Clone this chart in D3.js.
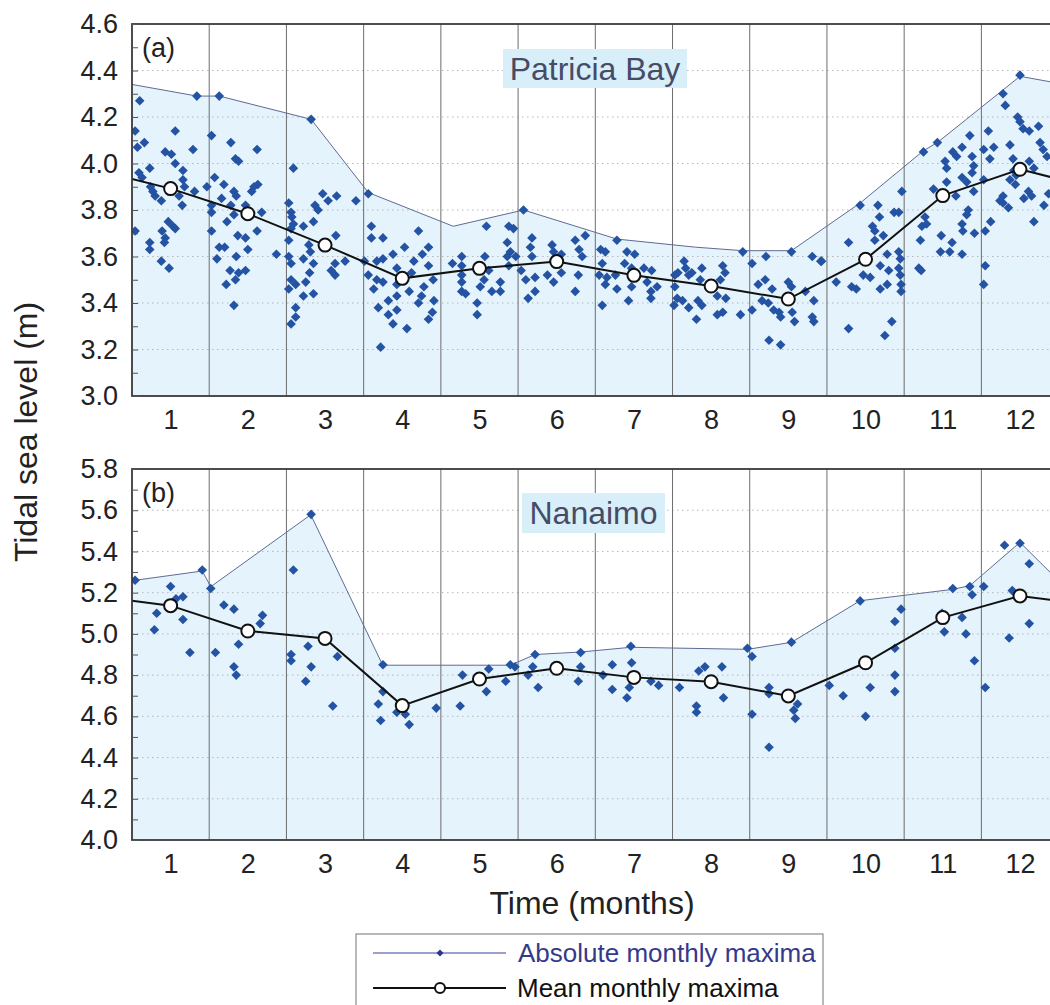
<!DOCTYPE html>
<html lang="en">
<head>
<meta charset="UTF-8">
<title>Tidal sea level</title>
<script src="https://cdnjs.cloudflare.com/ajax/libs/d3/7.8.5/d3.min.js"></script>
<style>
  body { margin: 0; background: #fff; }
  svg { display: block; font-family: "Liberation Sans", Arial, sans-serif; }
</style>
</head>
<body>
<svg id="chart" width="1050" height="1005"></svg>
<script>
// ---- data ----
const months = [1, 2, 3, 4, 5, 6, 7, 8, 9, 10, 11, 12];

// (a) Patricia Bay
const patriciaMean = [3.892, 3.784, 3.649, 3.506, 3.549, 3.578, 3.519, 3.473, 3.417, 3.588, 3.862, 3.975];
const patriciaMeanEdge = 3.933;  // value where the mean line meets the panel edges
const patriciaEnvelope = [[0.5,4.34],[1.34,4.29],[1.63,4.29],[2.82,4.19],[3.56,3.875],[4.66,3.73],[5.57,3.80],
  [6.78,3.675],[7.8,3.64],[8.41,3.625],[9.04,3.625],[9.93,3.83],[10.75,4.055],[10.93,4.09],[12.0,4.375],[12.5,4.345]];
const patriciaPoints = [
  // Jan
  [0.60,4.27],[1.34,4.29],[0.54,4.14],[1.06,4.14],[0.57,4.07],[0.66,4.09],[1.29,4.06],[0.93,4.05],[1.01,4.04],[1.06,4.00],
  [0.73,3.98],[0.59,3.96],[0.63,3.94],[1.16,3.97],[1.16,3.93],[1.18,3.90],[1.31,3.88],[0.74,3.90],[0.77,3.88],[0.80,3.86],
  [0.88,3.84],[1.11,3.86],[1.15,3.82],[0.97,3.75],[1.03,3.73],[1.06,3.72],[0.89,3.71],[0.54,3.71],[0.93,3.68],[0.92,3.66],
  [0.73,3.66],[0.73,3.63],[0.88,3.58],[0.98,3.55],[1.47,3.90],
  // Feb
  [1.63,4.29],[1.53,4.12],[1.78,4.09],[2.12,4.06],[1.84,4.02],[1.88,4.01],[1.57,3.94],[1.69,3.91],[2.08,3.90],[2.13,3.91],
  [2.05,3.88],[1.82,3.88],[1.85,3.86],[1.66,3.85],[1.78,3.82],[1.97,3.82],[1.53,3.82],[1.53,3.79],[2.18,3.79],[1.82,3.78],
  [1.73,3.75],[2.12,3.71],[1.53,3.71],[1.87,3.69],[1.97,3.68],[2.00,3.63],[1.63,3.64],[1.70,3.64],[1.85,3.60],[1.60,3.59],
  [1.97,3.54],[1.77,3.54],[1.88,3.53],[1.84,3.50],[1.72,3.48],[1.82,3.39],[2.37,3.61],
  // Mar
  [2.82,4.19],[2.59,3.98],[2.97,3.87],[3.15,3.86],[3.04,3.84],[3.40,3.84],[2.87,3.82],[2.91,3.80],[2.53,3.83],[2.56,3.79],
  [2.57,3.77],[2.59,3.74],[2.56,3.72],[2.72,3.73],[2.85,3.75],[3.14,3.69],[2.53,3.67],[2.79,3.65],[2.81,3.62],[2.53,3.60],
  [2.56,3.57],[2.72,3.59],[2.85,3.57],[3.26,3.58],[3.13,3.57],[3.08,3.54],[3.13,3.52],[2.80,3.53],[2.75,3.49],[2.56,3.50],
  [2.62,3.48],[2.53,3.46],[2.85,3.44],[2.72,3.43],[2.62,3.38],[2.62,3.34],[2.56,3.31],
  // Apr
  [3.56,3.87],[3.60,3.73],[3.60,3.68],[3.75,3.68],[4.21,3.71],[4.03,3.64],[4.34,3.64],[3.88,3.61],[4.26,3.61],[3.51,3.58],
  [3.67,3.58],[3.75,3.59],[4.15,3.58],[4.34,3.56],[3.93,3.55],[3.56,3.52],[4.12,3.53],[3.67,3.50],[3.75,3.49],[3.93,3.48],
  [4.28,3.47],[4.40,3.50],[3.63,3.46],[4.09,3.45],[3.93,3.43],[4.25,3.43],[3.82,3.41],[4.41,3.41],[3.69,3.38],[3.93,3.37],
  [4.21,3.40],[3.82,3.35],[4.39,3.36],[4.34,3.33],[3.88,3.31],[4.06,3.29],[3.72,3.21],
  // May
  [5.09,3.73],[4.65,3.57],[4.77,3.60],[5.07,3.60],[4.77,3.56],[4.77,3.52],[4.77,3.49],[4.77,3.45],[4.82,3.44],[5.12,3.54],
  [5.06,3.50],[5.01,3.47],[5.16,3.45],[5.27,3.49],[5.27,3.45],[4.97,3.40],[4.97,3.35],[5.38,3.73],[5.44,3.72],[5.36,3.66],
  [5.40,3.62],[5.36,3.60],[5.47,3.60],[5.38,3.56],
  // Jun
  [5.57,3.80],[5.68,3.68],[5.66,3.64],[5.68,3.60],[5.54,3.54],[5.60,3.50],[5.72,3.51],[5.63,3.42],[5.72,3.45],[5.94,3.65],
  [5.96,3.62],[5.88,3.52],[5.96,3.49],[6.06,3.61],[6.06,3.53],[6.24,3.67],[6.29,3.63],[6.33,3.60],[6.28,3.52],[6.24,3.45],
  [6.37,3.69],
  // Jul
  [6.78,3.67],[6.57,3.63],[6.63,3.62],[6.91,3.62],[7.01,3.61],[6.59,3.57],[6.88,3.57],[6.55,3.52],[6.65,3.51],[6.76,3.52],
  [6.97,3.55],[7.13,3.55],[7.23,3.54],[6.63,3.48],[6.78,3.46],[6.97,3.47],[7.17,3.49],[7.22,3.45],[7.30,3.47],[7.22,3.42],
  [6.93,3.41],[6.59,3.39],
  // Aug
  [7.65,3.58],[7.67,3.55],[7.57,3.53],[7.53,3.52],[7.71,3.52],[7.75,3.53],[7.88,3.55],[7.86,3.50],[8.15,3.56],[8.18,3.53],
  [8.12,3.50],[7.53,3.47],[7.56,3.42],[7.63,3.41],[7.52,3.39],[7.71,3.38],[7.83,3.41],[7.88,3.39],[8.08,3.43],[8.19,3.42],
  [8.08,3.35],[8.15,3.36],[7.81,3.33],[8.38,3.35],[8.41,3.62],[8.53,3.57],
  // Sep
  [8.71,3.60],[9.04,3.62],[8.61,3.48],[8.70,3.50],[8.79,3.46],[8.66,3.41],[8.74,3.40],[8.81,3.37],[8.88,3.36],[8.90,3.34],
  [9.00,3.49],[9.04,3.47],[9.05,3.36],[9.08,3.32],[9.22,3.45],[9.31,3.60],[9.42,3.58],[9.33,3.41],[9.31,3.34],[9.33,3.32],
  [8.53,3.37],[8.75,3.24],[8.90,3.22],
  // Oct
  [9.43,3.58],[9.93,3.82],[10.47,3.88],[10.16,3.82],[10.18,3.77],[10.37,3.79],[10.43,3.79],[10.09,3.73],[10.12,3.71],[10.23,3.69],
  [9.78,3.66],[10.12,3.67],[10.00,3.60],[10.28,3.61],[10.43,3.62],[10.45,3.59],[10.19,3.56],[10.30,3.54],[10.43,3.55],[10.45,3.52],
  [9.97,3.52],[10.06,3.51],[9.62,3.49],[9.82,3.47],[9.88,3.46],[10.28,3.48],[10.19,3.46],[10.46,3.48],[10.46,3.45],[10.34,3.32],
  [9.78,3.29],[10.25,3.26],
  // Nov
  [10.75,4.05],[10.93,4.09],[11.03,4.01],[11.13,4.05],[11.18,4.03],[11.25,4.07],[11.35,4.12],[11.38,4.03],[11.40,3.99],[11.05,3.98],
  [11.38,3.96],[11.25,3.94],[11.31,3.92],[11.05,3.92],[10.88,3.89],[11.40,3.88],[11.17,3.86],[10.77,3.77],[10.73,3.73],[10.79,3.74],
  [11.33,3.80],[11.31,3.78],[10.71,3.67],[10.98,3.69],[11.25,3.74],[11.26,3.71],[11.12,3.66],[11.09,3.62],[10.97,3.62],[11.25,3.61],
  [11.41,3.70],[10.69,3.55],[10.72,3.54],
  // Dec
  [12.00,4.38],[11.78,4.30],[11.81,4.25],[11.59,4.14],[11.53,4.06],[11.66,4.07],[11.61,4.02],[11.97,4.20],[12.00,4.18],[12.04,4.15],
  [12.12,4.14],[12.24,4.16],[11.87,4.08],[12.26,4.09],[12.30,4.06],[12.35,4.03],[11.91,4.02],[12.12,4.01],[12.18,3.98],[11.92,3.97],
  [11.95,3.95],[11.94,3.91],[11.87,3.93],[11.53,3.93],[11.78,3.86],[11.78,3.83],[11.85,3.81],[12.05,3.85],[12.11,3.88],[12.15,3.86],
  [12.31,3.82],[12.37,3.87],[12.18,3.75],[11.62,3.75],[11.55,3.71],[11.55,3.56],[11.53,3.48],[11.74,3.84]
];

// (b) Nanaimo
const nanaimoMean = [5.137, 5.014, 4.978, 4.652, 4.781, 4.833, 4.789, 4.768, 4.699, 4.860, 5.079, 5.184];
const nanaimoMeanEdge = 5.161;
const nanaimoEnvelope = [[0.5,5.258],[1.41,5.305],[1.52,5.229],[2.815,5.578],[3.747,4.848],[5.40,4.848],[5.72,4.90],
  [6.31,4.912],[6.96,4.935],[8.47,4.925],[9.04,4.959],[9.93,5.161],[11.13,5.216],[11.35,5.234],[12.0,5.444],[12.5,5.258]];
const nanaimoPoints = [
  [0.54,5.26],[1.41,5.31],[1.52,5.22],[1.00,5.23],[0.82,5.10],[0.79,5.02],[1.07,5.17],[1.16,5.18],[1.16,5.07],[1.25,4.91],
  [1.58,4.91],[1.69,5.14],[1.82,5.12],[1.88,4.95],[1.82,4.84],[1.85,4.80],[2.16,5.05],[2.19,5.09],
  [2.59,5.31],[2.82,5.58],[2.56,4.90],[2.56,4.87],[2.78,4.94],[2.82,4.84],[2.75,4.77],[3.10,4.65],[3.16,4.89],
  [3.75,4.85],[3.75,4.72],[3.69,4.66],[3.72,4.58],[3.93,4.62],[4.04,4.61],[4.09,4.56],[4.44,4.64],
  [4.75,4.65],[4.78,4.80],[5.12,4.83],[5.09,4.72],[5.34,4.77],[5.40,4.85],[5.46,4.84],
  [5.63,4.80],[5.69,4.84],[5.72,4.90],[5.76,4.74],[6.28,4.77],[6.31,4.84],[6.31,4.91],
  [6.60,4.80],[6.72,4.85],[6.72,4.73],[6.91,4.69],[6.94,4.74],[6.97,4.86],[6.96,4.94],[7.22,4.77],[7.32,4.75],
  [7.59,4.74],[7.84,4.82],[7.81,4.65],[7.81,4.62],[7.92,4.84],[8.14,4.84],[8.16,4.69],
  [8.47,4.93],[8.53,4.89],[8.53,4.61],[8.75,4.74],[8.75,4.71],[8.75,4.45],[9.04,4.96],[9.07,4.63],[9.12,4.66],[9.09,4.59],
  [9.53,4.75],[9.71,4.70],[9.93,5.16],[10.06,4.74],[10.00,4.60],[10.38,5.06],[10.46,5.12],[10.38,4.93],[10.38,4.80],[10.38,4.72],
  [10.99,5.10],[11.02,5.01],[11.13,5.22],[11.25,5.08],[11.30,5.00],[11.35,5.23],[11.38,5.19],[11.41,4.87],
  [11.53,5.23],[11.55,4.74],[11.80,5.43],[12.00,5.44],[11.90,5.21],[11.86,4.98],[12.12,5.34],[12.12,5.05]
];

const legendLabels = ["Absolute monthly maxima", "Mean monthly maxima"];

// ---- layout ----
const svg = d3.select("#chart");
const left = 132, right = 1058.6;
const x = d3.scaleLinear().domain([0.5, 12.5]).range([left, right]);

const fillBlue = "#e4f3fc";
const dotBlue = "#2553a3";
const envColor = "#5f6b94";

const panels = [
  { tag: "(a)", name: "Patricia Bay", top: 24, bottom: 396, domain: [3.0, 4.6],
    mean: patriciaMean, edge: patriciaMeanEdge, env: patriciaEnvelope, pts: patriciaPoints,
    box: [503, 49, 184, 39] },
  { tag: "(b)", name: "Nanaimo", top: 469, bottom: 840, domain: [4.0, 5.8],
    mean: nanaimoMean, edge: nanaimoMeanEdge, env: nanaimoEnvelope, pts: nanaimoPoints,
    box: [522, 493, 143, 40] }
];

const diamond = "M0,-4.8L4.8,0L0,4.8L-4.8,0Z";

panels.forEach((p, i) => {
  const y = d3.scaleLinear().domain(p.domain).range([p.bottom, p.top]);
  const g = svg.append("g");
  const clipId = "clip" + i;
  svg.append("clipPath").attr("id", clipId)
    .append("rect").attr("x", left).attr("y", p.top)
    .attr("width", right - left).attr("height", p.bottom - p.top);
  const plot = g.append("g").attr("clip-path", `url(#${clipId})`);

  // area under the absolute maxima
  plot.append("path")
    .datum(p.env)
    .attr("fill", fillBlue)
    .attr("d", d3.area().x(d => x(d[0])).y0(p.bottom).y1(d => y(d[1])));

  // dotted horizontal grid
  const major = d3.range(p.domain[0], p.domain[1] + 0.001, 0.2).map(v => +v.toFixed(1));
  const minor = d3.range(p.domain[0] + 0.1, p.domain[1], 0.2).map(v => +v.toFixed(1));
  plot.selectAll(".grid").data(major.slice(1, -1)).enter().append("line")
    .attr("x1", left).attr("x2", right)
    .attr("y1", d => y(d)).attr("y2", d => y(d))
    .attr("stroke", "#b8b8b8").attr("stroke-width", 1)
    .attr("stroke-dasharray", "1.5,3.5");

  // month separators
  plot.selectAll(".sep").data(months.slice(0, -1)).enter().append("line")
    .attr("x1", d => x(d + 0.5)).attr("x2", d => x(d + 0.5))
    .attr("y1", p.top).attr("y2", p.bottom)
    .attr("stroke", "#6d6d6d").attr("stroke-width", 1);

  // envelope line
  plot.append("path")
    .datum(p.env)
    .attr("fill", "none").attr("stroke", envColor).attr("stroke-width", 1)
    .attr("d", d3.line().x(d => x(d[0])).y(d => y(d[1])));

  // diamonds
  plot.selectAll(".pt").data(p.pts).enter().append("path")
    .attr("d", diamond)
    .attr("transform", d => `translate(${x(d[0])},${y(d[1])})`)
    .attr("fill", dotBlue);

  // mean line with wrap-around edges
  const meanLine = [[0.5, p.edge]].concat(months.map((m, k) => [m, p.mean[k]]), [[12.5, p.edge]]);
  plot.append("path")
    .datum(meanLine)
    .attr("fill", "none").attr("stroke", "#111").attr("stroke-width", 2)
    .attr("d", d3.line().x(d => x(d[0])).y(d => y(d[1])));
  plot.selectAll(".mc").data(months).enter().append("circle")
    .attr("cx", d => x(d)).attr("cy", (d, k) => y(p.mean[k]))
    .attr("r", 6.5)
    .attr("fill", "#fff").attr("stroke", "#111").attr("stroke-width", 2);

  // station label
  g.append("rect")
    .attr("x", p.box[0]).attr("y", p.box[1]).attr("width", p.box[2]).attr("height", p.box[3])
    .attr("fill", "#d8eef9");
  g.append("text")
    .attr("x", p.box[0] + p.box[2] / 2).attr("y", p.box[1] + p.box[3] / 2 + 11)
    .attr("text-anchor", "middle")
    .attr("font-size", 32).attr("fill", "#464b66")
    .text(p.name);

  g.append("text")
    .attr("x", 142).attr("y", p.top + 33)
    .attr("font-size", 27).attr("fill", "#222")
    .text(p.tag);

  // frame
  g.append("rect")
    .attr("x", left).attr("y", p.top)
    .attr("width", right - left).attr("height", p.bottom - p.top)
    .attr("fill", "none").attr("stroke", "#3a3a3a").attr("stroke-width", 1.8);

  // y axis (ticks point inward)
  const ya = g.append("g").attr("transform", `translate(${left},0)`)
    .call(d3.axisLeft(y).tickValues(major).tickSize(-6).tickPadding(14).tickFormat(d3.format(".1f")));
  ya.select(".domain").remove();
  ya.selectAll("line").attr("stroke", "#555");
  ya.selectAll("text").attr("font-size", 27).attr("fill", "#222")
    .attr("font-family", "Liberation Sans, Arial, sans-serif");
  const ym = g.append("g").attr("transform", `translate(${left},0)`)
    .call(d3.axisLeft(y).tickValues(minor).tickSize(-6).tickFormat(""));
  ym.select(".domain").remove();
  ym.selectAll("line").attr("stroke", "#555");

  // x axis labels
  const xa = g.append("g").attr("transform", `translate(0,${p.bottom})`)
    .call(d3.axisBottom(x).tickValues(months).tickSize(0).tickPadding(14).tickFormat(d3.format("d")));
  xa.select(".domain").remove();
  xa.selectAll("text").attr("font-size", 27).attr("fill", "#222")
    .attr("font-family", "Liberation Sans, Arial, sans-serif");
});

// axis titles
svg.append("text")
  .attr("transform", "translate(37,432) rotate(-90)")
  .attr("text-anchor", "middle")
  .attr("font-size", 32).attr("fill", "#222")
  .text("Tidal sea level (m)");

svg.append("text")
  .attr("x", 592).attr("y", 914)
  .attr("text-anchor", "middle")
  .attr("font-size", 32).attr("fill", "#222")
  .text("Time (months)");

// legend
const lg = svg.append("g");
lg.append("rect")
  .attr("x", 356).attr("y", 934).attr("width", 467).attr("height", 90)
  .attr("fill", "#fff").attr("stroke", "#8a8a8a").attr("stroke-width", 1.2);

lg.append("line").attr("x1", 373).attr("x2", 506).attr("y1", 953).attr("y2", 953)
  .attr("stroke", "#3b3f9a").attr("stroke-width", 1);
lg.append("path").attr("d", "M0,-3.5L3.5,0L0,3.5L-3.5,0Z")
  .attr("transform", "translate(440,953)").attr("fill", "#2b3590");
lg.append("text").attr("x", 518).attr("y", 962)
  .attr("font-size", 26).attr("fill", "#35398a").text(legendLabels[0]);

lg.append("line").attr("x1", 373).attr("x2", 506).attr("y1", 988).attr("y2", 988)
  .attr("stroke", "#111").attr("stroke-width", 2);
lg.append("circle").attr("cx", 440).attr("cy", 988).attr("r", 5)
  .attr("fill", "#fff").attr("stroke", "#111").attr("stroke-width", 2);
lg.append("text").attr("x", 517).attr("y", 997)
  .attr("font-size", 26).attr("fill", "#111").text(legendLabels[1]);
</script>
</body>
</html>
